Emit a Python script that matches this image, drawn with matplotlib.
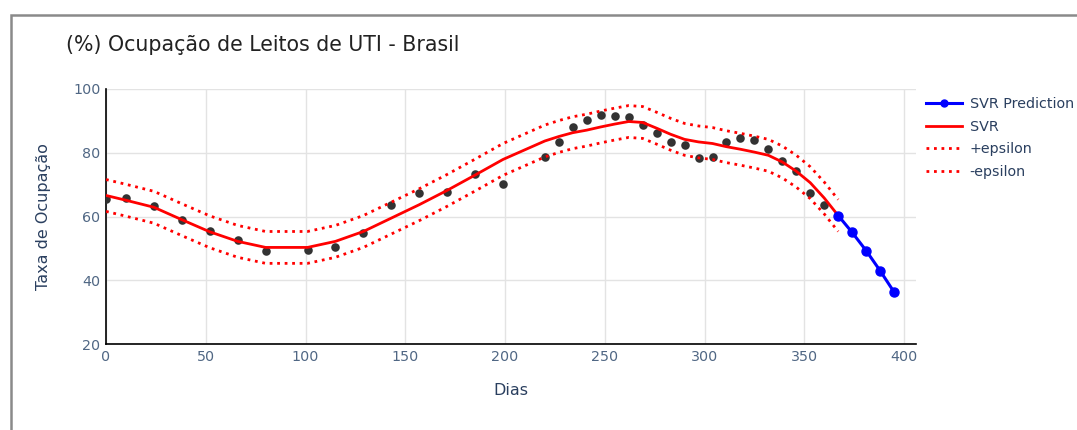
import numpy as np
import matplotlib.pyplot as plt
from matplotlib.patches import Rectangle
from matplotlib.lines import Line2D

# observed ICU occupancy (days since start, %)
dias_obs = [0, 10, 24, 38, 52, 66, 80, 101, 115, 129, 143, 157, 171, 185, 199,
            220, 227, 234, 241, 248, 255, 262, 269, 276, 283, 290, 297, 304,
            311, 318, 325, 332, 339, 346, 353, 360]
taxa_obs = [65.5, 65.7, 63.4, 59.0, 55.4, 52.7, 49.2, 49.5, 50.4, 54.8, 63.7,
            67.4, 67.6, 73.2, 70.3, 78.6, 83.5, 88.2, 90.3, 91.9, 91.6, 91.1,
            88.7, 86.2, 83.5, 82.3, 78.4, 78.6, 83.5, 84.5, 84.0, 81.3, 77.3,
            74.2, 67.4, 63.6]

# SVR fit
dias_svr = dias_obs + [367]
taxa_svr = [66.6, 65.1, 62.9, 59.0, 55.2, 52.2, 50.3, 50.3, 52.2, 55.3, 59.5,
            63.7, 68.2, 73.0, 77.9, 83.7, 85.1, 86.3, 87.1, 88.1, 89.0, 89.8,
            89.5, 87.7, 85.8, 84.2, 83.4, 82.9, 81.9, 81.1, 80.2, 79.2, 77.1,
            74.2, 70.6, 65.8, 60.3]
epsilon = 5

# prediction
dias_pred = [367, 374, 381, 388, 395]
taxa_pred = [60.3, 55.0, 49.3, 43.0, 36.3]

tick_color = '#506784'
label_color = '#2a3f5f'
dots = (0, (1, 1.7))

fig = plt.figure(figsize=(10.77, 4.30), dpi=100)
ax = fig.add_axes([106 / 1077, 1 - 344 / 430, 810 / 1077, 255 / 430])

svr = np.array(taxa_svr)
ax.scatter(dias_obs, taxa_obs, s=38, color='#333333', zorder=3, linewidths=0)
ax.plot(dias_svr, svr, color='red', lw=2, zorder=4)
ax.plot(dias_svr, svr + epsilon, color='red', lw=2, ls=dots, zorder=4)
ax.plot(dias_svr, svr - epsilon, color='red', lw=2, ls=dots, zorder=4)
ax.plot(dias_pred, taxa_pred, color='blue', lw=2.2, marker='o', ms=6.5, zorder=5)

ax.set_xlim(0, 406)
ax.set_ylim(20, 100)
ax.set_xticks(range(0, 401, 50))
ax.set_yticks(range(20, 101, 20))
ax.grid(True, color='#e3e3e3', lw=1)
ax.set_axisbelow(True)
for s in ['top', 'right']:
    ax.spines[s].set_visible(False)
for s in ['left', 'bottom']:
    ax.spines[s].set_color('black')
    ax.spines[s].set_linewidth(1.2)
ax.tick_params(length=0, labelsize=10.3, colors=tick_color, pad=4)
ax.set_xlabel('Dias', fontsize=11.5, color=label_color, labelpad=14)
ax.set_ylabel('Taxa de Ocupação', fontsize=11.5, color=label_color, labelpad=16)

fig.text(66 / 1077, 1 - 45 / 430, '(%) Ocupação de Leitos de UTI - Brasil',
         fontsize=14.8, color='#222222', va='center', ha='left')

handles = [
    Line2D([], [], color='blue', lw=2.2, marker='o', ms=5),
    Line2D([], [], color='red', lw=2),
    Line2D([], [], color='red', lw=2, ls=dots),
    Line2D([], [], color='red', lw=2, ls=dots),
]
fig.legend(handles, ['SVR Prediction', 'SVR', '+epsilon', '-epsilon'],
           loc='upper left', bbox_to_anchor=(926 / 1077, 1 - 97 / 430),
           frameon=False, fontsize=10.3, labelcolor=label_color,
           handlelength=2.5, handletextpad=0.55, labelspacing=0.6,
           borderaxespad=0, borderpad=0)

# screenshot frame
fig.patches.append(Rectangle((11 / 1077, -0.1), 1.2, 1 - 15 / 430 + 0.1,
                             transform=fig.transFigure, fill=False,
                             edgecolor='#8a8a8a', lw=1.8))

fig.savefig('out.png', dpi=100)
